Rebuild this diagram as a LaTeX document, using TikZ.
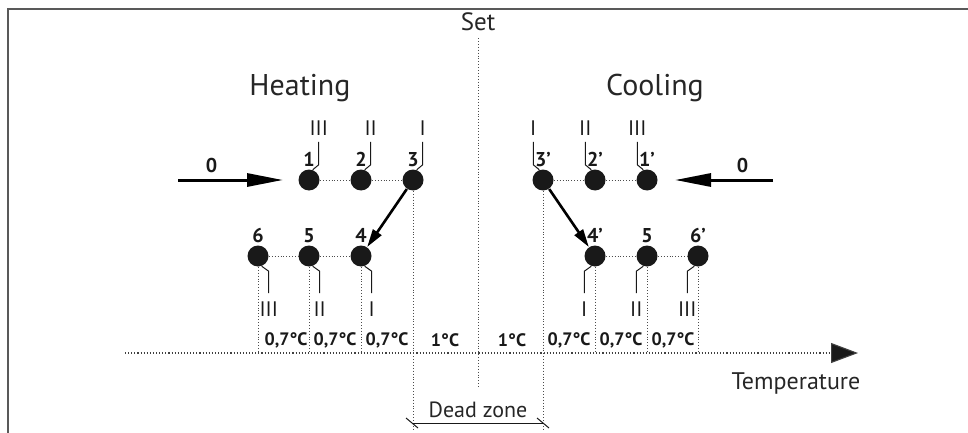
\documentclass[tikz,border=0pt]{standalone}
\usepackage{fontspec}
\setmainfont{PT Sans}
\usetikzlibrary{arrows.meta,calc}

\begin{document}
\begin{tikzpicture}[x=0.5pt,y=-0.5pt,
	dot/.style={circle,fill=black!90,inner sep=0pt,minimum size=10.5pt},
	num/.style={font=\fontsize{10}{12}\selectfont\bfseries,text=black!90,inner sep=1pt},
	deg/.style={font=\fontsize{9}{11}\selectfont\bfseries,text=black!90},
	roman/.style={font=\fontsize{10.5}{12}\selectfont,text=black!90,inner sep=1pt},
	title/.style={font=\fontsize{15}{17}\selectfont,text=black!85},
	guide/.style={densely dotted,line width=0.45pt,black!70},
	hook/.style={line width=0.5pt,black!90},
	bigarrow/.style={line width=1.5pt,-{Triangle[length=18pt,width=6.5pt]}},
	move/.style={line width=1.3pt,-{Triangle[length=9pt,width=5pt]}}
	]
	\useasboundingbox (0,0) rectangle (968,433);
	\draw[line width=1pt,black!65] (8,433) -- (8,9) -- (968,9);
	
	\node[title] (heat) at (300,88) {Heating};
	\node[title] (cool) at (655,88) {Cooling};
	\node[font=\fontsize{12.5}{14}\selectfont,text=black!85] (set) at (478,22) {Set};
	\node[font=\fontsize{12}{14}\selectfont,text=black!85] (temp) at (796,383) {Temperature};
	
	\node[dot,label={[num]above:1}] (h1) at (309,180) {};
	\node[dot,label={[num]above:2}] (h2) at (361,180) {};
	\node[dot,label={[num]above:3}] (h3) at (413,180) {};
	\node[dot,label={[num]above:4}] (h4) at (361,256) {};
	\node[dot,label={[num]above:5}] (h5) at (309,256) {};
	\node[dot,label={[num]above:6}] (h6) at (258,256) {};
	\node[dot,label={[num]above:1’}] (c1) at (647,180) {};
	\node[dot,label={[num]above:2’}] (c2) at (595,180) {};
	\node[dot,label={[num]above:3’}] (c3) at (543,180) {};
	\node[dot,label={[num]above:4’}] (c4) at (595,256) {};
	\node[dot,label={[num]above:5}] (c5) at (647,256) {};
	\node[dot,label={[num]above:6’}] (c6) at (698,256) {};
	
	\coordinate (axL) at (125,353);
	\coordinate (axR) at (858,353);
	\coordinate (dz) at (0,430);
	\coordinate (dzL) at (412,423);
	\coordinate (dzR) at (543,423);
	\coordinate (l0a) at (178,180);
	\coordinate (l0b) at (283,180);
	\coordinate (r0a) at (773,180);
	\coordinate (r0b) at (675,180);
	
	\path[guide]
	(h1) edge (h2)
	(h2) edge (h3)
	(h6) edge (h5)
	(h5) edge (h4)
	(c3) edge (c2)
	(c2) edge (c1)
	(c4) edge (c5)
	(c5) edge (c6)
	;
	\draw[guide] (set.south) -- (478,387);
	\draw[guide] (h3.south) -- (h3 |- dz);
	\draw[guide] (c3.south) -- (c3 |- dz);
	\foreach \n in {h4,h5,h6,c4,c5,c6}
	\draw[guide] (\n.south) -- (\n.south |- axL);
	\draw[densely dotted,line width=0.55pt,black!75,-{Triangle[length=13.5pt,width=10pt,fill=black!90]}] (axL) -- (axR);
	
	\draw[hook] (h1.70) -- ++(6,-5) -- ++(0,-23) node[roman,above=2pt] {III};
	\draw[hook] (h2.70) -- ++(6,-5) -- ++(0,-23) node[roman,above=2pt] {II};
	\draw[hook] (h3.70) -- ++(6,-5) -- ++(0,-23) node[roman,above=2pt] {I};
	\draw[hook] (c3.110) -- ++(-6,-5) -- ++(0,-23) node[roman,above=2pt] {I};
	\draw[hook] (c2.110) -- ++(-6,-5) -- ++(0,-23) node[roman,above=2pt] {II};
	\draw[hook] (c1.110) -- ++(-6,-5) -- ++(0,-23) node[roman,above=2pt] {III};
	\draw[hook] (h6.290) -- ++(7,5) -- ++(0,22) node[roman,below=3pt] {III};
	\draw[hook] (h5.290) -- ++(7,5) -- ++(0,22) node[roman,below=3pt] {II};
	\draw[hook] (h4.290) -- ++(7,5) -- ++(0,22) node[roman,below=3pt] {I};
	\draw[hook] (c4.250) -- ++(-7,5) -- ++(0,22) node[roman,below=3pt] {I};
	\draw[hook] (c5.250) -- ++(-7,5) -- ++(0,22) node[roman,below=3pt] {II};
	\draw[hook] (c6.250) -- ++(-7,5) -- ++(0,22) node[roman,below=3pt] {III};
	
	\path[bigarrow]
	(l0a) edge node[num,pos=.32,above=2pt] {0} (l0b)
	(r0a) edge node[num,pos=.31,above=2pt] {0} (r0b)
	;
	\path[move]
	(h3) edge (h4)
	(c3) edge (c4)
	;
	
	\foreach \x/\t in {286/{0,7°C},335/{0,7°C},387/{0,7°C},445/{1°C},512/{1°C},569/{0,7°C},621/{0,7°C},673/{0,7°C}}
	\node[deg] at (\x,340) {\t};
	
	\draw[line width=0.5pt,black!90] (dzL) -- (dzR);
	\draw[line width=0.5pt,black!90] (dzL) ++(-6,-5) -- ++(12,10);
	\draw[line width=0.5pt,black!90] (dzR) ++(-6,-5) -- ++(12,10);
	\node[font=\fontsize{11}{13}\selectfont,text=black!85] (dead) at (478,410) {Dead zone};
\end{tikzpicture}
\end{document}
